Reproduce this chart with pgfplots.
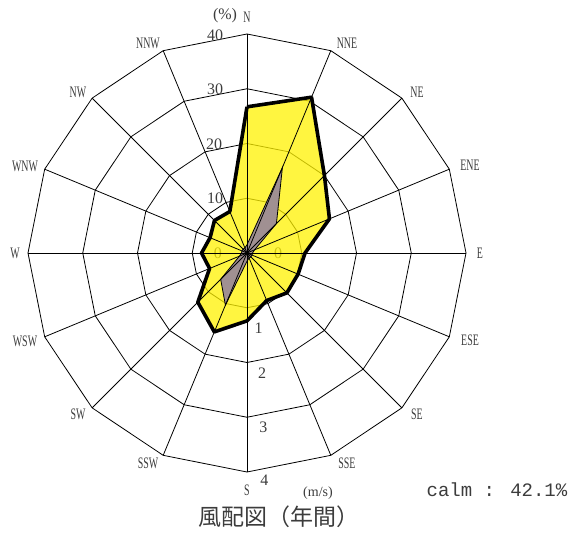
\documentclass[border=0pt]{standalone}
\usepackage{pgfplots}
\pgfplotsset{compat=1.18}
\usepackage{pgfplotstable}
\usepackage{fontspec}
\setmainfont{Liberation Serif}
\newfontfamily\dirfont[FakeStretch=0.62]{Liberation Serif}
\newfontfamily\monofont{Liberation Mono}
\newfontfamily\cjk{Noto Sans CJK JP}
\definecolor{spd}{RGB}{160,144,146}
\definecolor{txt}{RGB}{60,60,60}

% direction angle (math convention, deg), frequency (%), mean speed (m/s)
\pgfplotstableread{
ang freq speed
90 26.7 0.15
67.5 30.8 1.69
45 20.0 0.76
22.5 16.3 0.15
0 10.6 0.10
-22.5 10.1 0.10
-45 10.3 0.10
-67.5 9.4 0.10
-90 12.4 0.15
-112.5 15.6 1.03
-135 12.7 0.68
-157.5 7.4 0.15
-180 8.3 0.10
-202.5 7.3 0.10
-225 8.4 0.10
-247.5 8.2 0.10
-270 26.7 0.15
}\rose

\pgfplotstableread{
ang r1 r2 r3 r4
90 10 20 30 40
67.5 10 20 30 40
45 10 20 30 40
22.5 10 20 30 40
0 10 20 30 40
-22.5 10 20 30 40
-45 10 20 30 40
-67.5 10 20 30 40
-90 10 20 30 40
-112.5 10 20 30 40
-135 10 20 30 40
-157.5 10 20 30 40
-180 10 20 30 40
-202.5 10 20 30 40
-225 10 20 30 40
-247.5 10 20 30 40
-270 10 20 30 40
}\rings

\begin{document}
\begin{tikzpicture}
\path (0,0) rectangle (569pt,536pt);
\begin{axis}[
  at={(247pt,283pt)}, anchor=origin,
  x=5.475pt, y=5.475pt,
  xmin=-42, xmax=42, ymin=-42, ymax=42,
  hide axis, clip=false,
]
% rings
\addplot[black, line width=0.8pt, data cs=polar] table[x=ang,y=r1] {\rings};
\addplot[black, line width=0.8pt, data cs=polar] table[x=ang,y=r2] {\rings};
\addplot[black, line width=0.8pt, data cs=polar] table[x=ang,y=r3] {\rings};
\addplot[black, line width=0.8pt, data cs=polar] table[x=ang,y=r4] {\rings};
\node[text=txt, font=\fontsize{16}{16}\selectfont] at (axis cs:-5.3,0) {0};
\node[text=txt, font=\fontsize{16}{16}\selectfont] at (axis cs:5.7,0) {0};
% frequency area
\addplot[draw=none, fill=yellow, fill opacity=0.75, data cs=polar] table[x=ang,y=freq] {\rose} \closedcycle;
% speed polygon (4 m/s = outer ring)
\addplot[draw=black, line width=0.8pt, fill=spd, data cs=polar] table[x=ang,y expr=\thisrow{speed}*10] {\rose};
% spokes
\pgfplotsinvokeforeach{90,67.5,45,22.5,0,-22.5,-45,-67.5,-90,-112.5,-135,-157.5,-180,-202.5,-225,-247.5}{
  \addplot[black, line width=0.8pt, data cs=polar] coordinates {(#1,0) (#1,40)};
}
% frequency outline
\addplot[black, line width=3.6pt, line join=round, data cs=polar] table[x=ang,y=freq] {\rose};
\end{axis}
% ring labels
\begin{scope}[every node/.style={text=txt, font=\fontsize{16}{16}\selectfont, inner sep=0pt}]
\node at (215pt,{536pt-198pt}) {10};
\node at (214pt,{536pt-144pt}) {20};
\node at (215pt,{536pt-89pt}) {30};
\node at (215pt,{536pt-35pt}) {40};
\node at (258.7pt,{536pt-328.3pt}) {1};
\node at (262pt,{536pt-372.7pt}) {2};
\node at (263.3pt,{536pt-427.7pt}) {3};
\node at (264.3pt,{536pt-480.7pt}) {4};
\node at (225pt,{536pt-16pt}) {(\%)};
\node[font=\fontsize{14}{14}\selectfont] at (318pt,{536pt-493pt}) {(m/s)};
\end{scope}
\begin{scope}[every node/.style={text=txt, font=\dirfont\fontsize{16}{16}\selectfont, inner sep=0pt}]
\node at (247pt,{536pt-17pt}) {N};
\node at (347pt,{536pt-43pt}) {NNE};
\node at (417pt,{536pt-92pt}) {NE};
\node at (470pt,{536pt-165pt}) {ENE};
\node at (480pt,{536pt-253pt}) {E};
\node at (470pt,{536pt-340pt}) {ESE};
\node at (417pt,{536pt-414pt}) {SE};
\node at (347pt,{536pt-463.5pt}) {SSE};
\node at (247pt,{536pt-490pt}) {S};
\node at (148pt,{536pt-463.5pt}) {SSW};
\node at (78pt,{536pt-414pt}) {SW};
\node at (25pt,{536pt-341pt}) {WSW};
\node at (15pt,{536pt-253pt}) {W};
\node at (25pt,{536pt-166pt}) {WNW};
\node at (78pt,{536pt-92pt}) {NW};
\node at (148pt,{536pt-43pt}) {NNW};
\end{scope}
\node[text=txt, inner sep=0pt, font=\monofont\fontsize{19}{19}\selectfont] at (497pt,{536pt-490pt}) {calm : 42.1\%};
\node[text=txt, inner sep=0pt, font=\cjk\fontsize{23}{23}\selectfont] at (279pt,{536pt-517pt}) {風配図（年間）};
\end{tikzpicture}
\end{document}
